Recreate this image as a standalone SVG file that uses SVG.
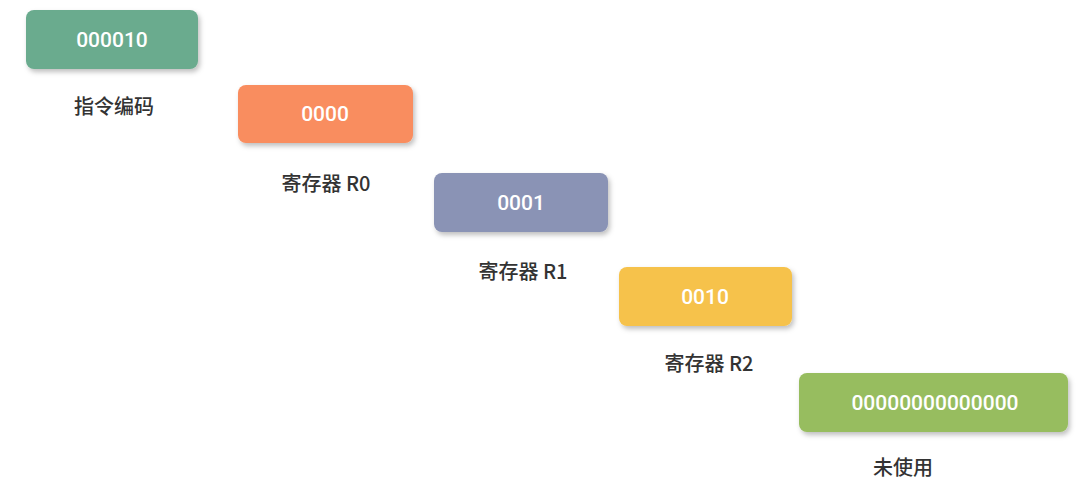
<svg xmlns="http://www.w3.org/2000/svg" width="1080" height="486" viewBox="0 0 1080 486">
<defs>
<filter id="sh" x="-10%" y="-20%" width="130%" height="160%"><feDropShadow dx="2" dy="3" stdDeviation="2.5" flood-color="#000" flood-opacity="0.25"/></filter>
<style>
.b{filter:url(#sh)}
.v{font-family:"Roboto","Liberation Sans",sans-serif;font-size:21px;font-weight:500;fill:#fff;text-anchor:middle;dominant-baseline:central}
.l{font-family:"Noto Sans CJK SC",sans-serif;font-size:20px;font-weight:500;fill:#333;text-anchor:middle;dominant-baseline:central}
</style>
</defs>
<rect width="1080" height="486" fill="#fff"/>
<g id="n1"><rect class="b" x="26" y="10" width="172" height="59" rx="8" fill="#6aab8e"/><text class="v" x="112" y="40">000010</text><text class="l" x="114" y="105">指令编码</text></g>
<g id="n2"><rect class="b" x="238" y="85" width="175" height="58" rx="8" fill="#f98d5e"/><text class="v" x="325" y="114">0000</text><text class="l" x="326" y="182">寄存器 R0</text></g>
<g id="n3"><rect class="b" x="434" y="173" width="174" height="59" rx="8" fill="#8a93b5"/><text class="v" x="521" y="203">0001</text><text class="l" x="523" y="270">寄存器 R1</text></g>
<g id="n4"><rect class="b" x="619" y="267" width="173" height="59" rx="8" fill="#f6c24b"/><text class="v" x="705" y="297">0010</text><text class="l" x="709" y="362">寄存器 R2</text></g>
<g id="n5"><rect class="b" x="799" y="373" width="269" height="59" rx="8" fill="#97bd5e"/><text class="v" x="935" y="403">00000000000000</text><text class="l" x="903" y="466">未使用</text></g>
<g id="connectors"/>
</svg>
